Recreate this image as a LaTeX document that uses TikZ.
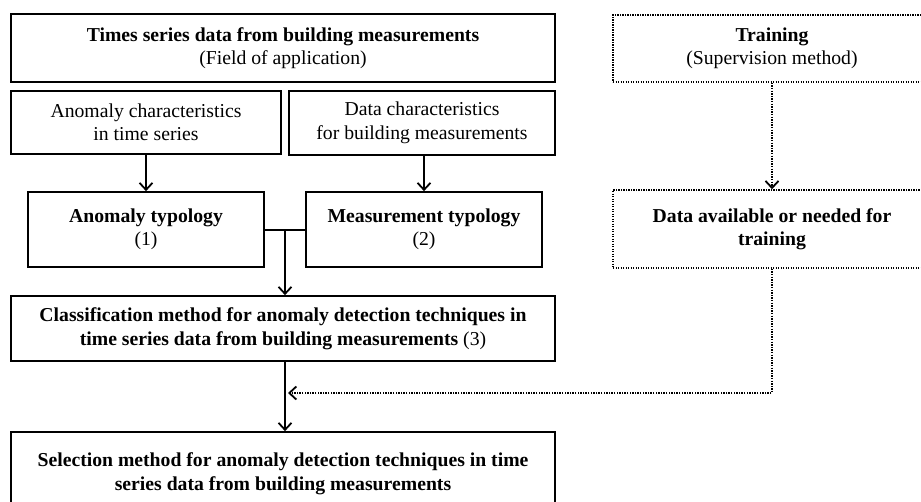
\documentclass[tikz,border=0pt]{standalone}
\usepackage{fontspec}
\setmainfont{Liberation Serif}
\usetikzlibrary{arrows.meta,calc}
\begin{document}
\begin{tikzpicture}[x=1pt,y=-1pt,
  box/.style={draw,line width=1.7pt,rectangle,align=center,inner sep=0pt,
    font=\fontsize{19.7}{23.5}\selectfont},
  dbox/.style={box,line width=1.5pt,dash pattern=on 1.4pt off 1.1pt},
  arr/.style={line width=2pt,-{Straight Barb[length=7pt,width=13pt,line width=1.8pt]}},
  darr/.style={arr,dash pattern=on 1.5pt off 1.1pt}]
\useasboundingbox (0,0) rectangle (921,501);
\node[box,minimum width=544pt,minimum height=68pt] (A) at (283,48)
  {\textbf{Times series data from building measurements}\\(Field of application)};
\node[box,minimum width=270pt,minimum height=63pt] (B) at (146,122.5)
  {Anomaly characteristics\\in time series};
\node[box,minimum width=266pt,minimum height=64pt] (C) at (422,123)
  {Data characteristics\\for building measurements};
\node[box,minimum width=236pt,minimum height=75pt] (D) at (146,229.5)
  {\textbf{Anomaly typology}\\(1)};
\node[box,minimum width=236pt,minimum height=75pt] (E) at (424,229.5)
  {\textbf{Measurement typology}\\(2)};
\node[box,minimum width=544pt,minimum height=65pt] (F) at (283,328.5)
  {\textbf{Classification method for anomaly detection techniques in}\\\textbf{time series data from building measurements} (3)};
\node[box,minimum width=544pt,minimum height=83pt] (G) at (283,473.5)
  {\textbf{Selection method for anomaly detection techniques in time}\\\textbf{series data from building measurements}};
\node[dbox,minimum width=318pt,minimum height=67pt] (H1) at (772,48.5)
  {\textbf{Training}\\(Supervision method)};
\node[dbox,minimum width=318pt,minimum height=78pt] (H2) at (772,229)
  {\textbf{Data available or needed for}\\\textbf{training}};
\draw[arr] (B.south) -- (D.north);
\draw[arr] (C.south -| E.north) -- (E.north);
\draw[line width=2pt] (D.east) -- (E.west);
\coordinate (J) at ($(D.east)!0.5!(E.west)$);
\draw[arr] (J) -- (J |- F.north);
\draw[arr] (J |- F.south) -- (J |- G.north);
\draw[darr] (H1.south) -- (H2.north);
\coordinate (K) at (288,393);
\draw[darr] (H2.south) -- (H2.south |- K) -- (K);
\end{tikzpicture}
\end{document}
